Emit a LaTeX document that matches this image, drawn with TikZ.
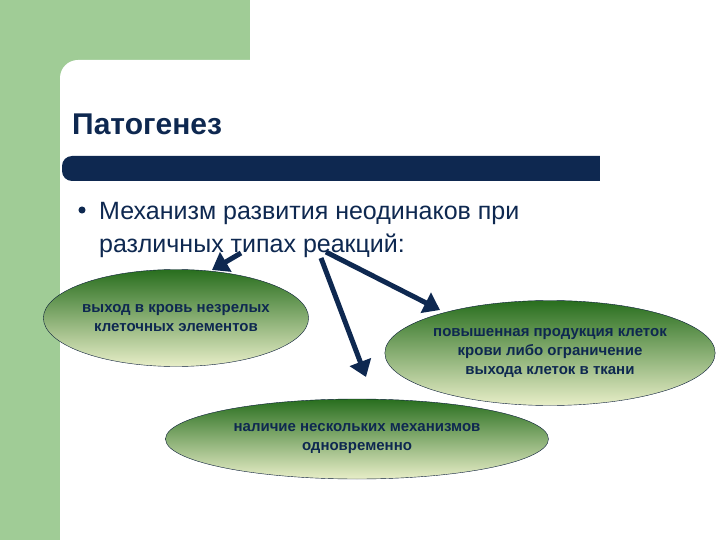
\documentclass[tikz,border=0pt]{standalone}
\usepackage{fontspec}
\setmainfont{Liberation Sans}
\usetikzlibrary{arrows.meta,shapes.geometric}
\definecolor{lg}{RGB}{160,204,150}
\definecolor{navy}{RGB}{14,40,80}
\definecolor{dg}{RGB}{40,110,30}
\definecolor{cr}{RGB}{232,238,200}
\tikzset{
 oval/.style={draw=navy!70!black,thin,ellipse,top color=dg,bottom color=cr,text=navy,font=\bfseries\fontsize{15}{19}\selectfont,align=center,inner sep=0pt},
 arr/.style={draw=navy,line width=5pt,-{Triangle[length=16pt,width=22pt]}}
}
\begin{document}
\begin{tikzpicture}[x=1pt,y=-1pt]
\useasboundingbox (0,0) rectangle (720,540);
\fill[white] (0,0) rectangle (720,540);
\fill[lg] (0,0) rectangle (250,540);
\begin{scope}
\clip (0,0) rectangle (720,540);
\fill[white,rounded corners=18pt] (60,60) rectangle (760,580);
\end{scope}
\fill[white] (250,0) rectangle (720,60);
\fill[navy,rounded corners=10pt] (62,156) rectangle (620,181);
\fill[white] (600,150) rectangle (720,190);
\node[anchor=base west,text=navy,font=\bfseries\fontsize{30}{34}\selectfont,inner sep=0pt] (t) at (72,135) {Патогенез};
\node[circle,fill=navy,inner sep=2.5pt] (b) at (82,210) {};
\node[anchor=base west,text=navy,font=\fontsize{25}{33}\selectfont,inner sep=0pt] (m1) at (99,219) {Механизм развития неодинаков при};
\node[anchor=base west,text=navy,font=\fontsize{25}{33}\selectfont,inner sep=0pt] (m2) at (99,252) {различных типах реакций:};
\node[oval,minimum width=258pt,minimum height=97pt] (e1) at (176,318) {выход в кровь незрелых\\клеточных элементов};
\node[oval,minimum width=310pt,minimum height=105pt] (e2) at (550,353) {повышенная продукция клеток\\крови либо ограничение\\выхода клеток в ткани};
\node[oval,minimum width=383pt,minimum height=80pt] (e3) at (357,439) {наличие нескольких механизмов\\одновременно};
\coordinate (s1) at (241,253);\coordinate (s2) at (321,258);\coordinate (s3) at (326,252);
\coordinate (t1) at (212,270);\coordinate (t2) at (366,377);\coordinate (t3) at (440,310);
\draw[arr] (s1) -- (t1);
\draw[arr] (s2) -- (t2);
\draw[arr] (s3) -- (t3);
\end{tikzpicture}
\end{document}
